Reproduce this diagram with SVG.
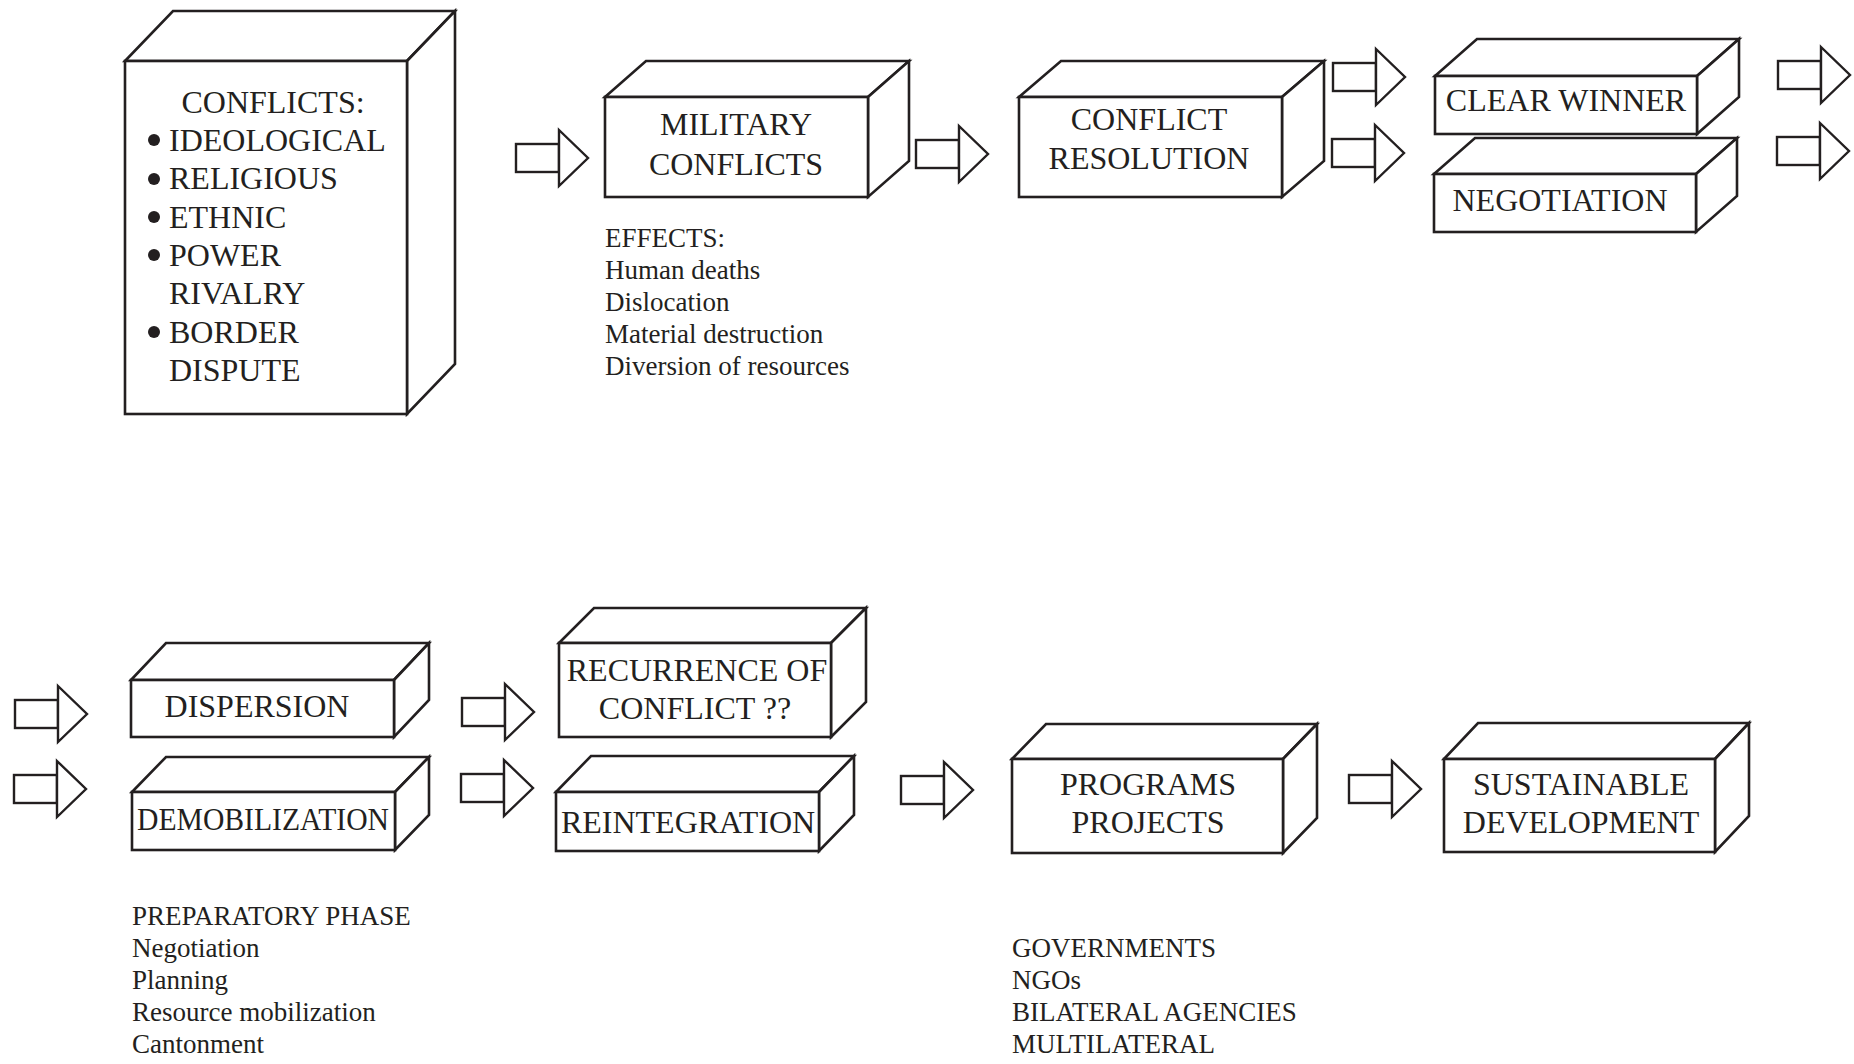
<svg xmlns="http://www.w3.org/2000/svg" width="1854" height="1064" viewBox="0 0 1854 1064">
<style>
.bx{fill:#fff;stroke:#231f20;stroke-width:2.6;stroke-linejoin:miter}
.ar{fill:#fff;stroke:#231f20;stroke-width:2.4;stroke-linejoin:miter}
text{font-family:"Liberation Serif","Times New Roman",serif;fill:#231f20}
.lb{font-size:32px;text-anchor:middle}
.ls{font-size:32px}
.sm{font-size:27px}
</style>
<defs>
<g id="arr"><rect class="ar" x="0" y="-14" width="43" height="28"/><polygon class="ar" points="43,-28 72,0 43,28"/></g>
</defs>
<rect width="1854" height="1064" fill="#fff"/>
<g id="connectors">
<use href="#arr" transform="translate(516,158)"/>
<use href="#arr" transform="translate(916,154)"/>
<use href="#arr" transform="translate(1333,77)"/>
<use href="#arr" transform="translate(1332,153)"/>
<use href="#arr" transform="translate(1778,75)"/>
<use href="#arr" transform="translate(1777,151)"/>
<use href="#arr" transform="translate(15,714)"/>
<use href="#arr" transform="translate(14,789)"/>
<use href="#arr" transform="translate(462,712)"/>
<use href="#arr" transform="translate(461,788)"/>
<use href="#arr" transform="translate(901,790)"/>
<use href="#arr" transform="translate(1349,789)"/>
</g>
<g id="conflicts">
<polygon class="bx" points="125,61 173,11 455,11 407,61"/>
<polygon class="bx" points="407,61 455,11 455,364 407,414"/>
<rect class="bx" x="125" y="61" width="282" height="353"/>
<text class="lb" x="273" y="113">CONFLICTS:</text>
<g fill="#231f20"><circle cx="154" cy="140" r="6"/><circle cx="154" cy="179" r="6"/><circle cx="154" cy="217" r="6"/><circle cx="154" cy="255" r="6"/><circle cx="154" cy="332" r="6"/></g>
<text class="ls" x="169" y="151">IDEOLOGICAL</text>
<text class="ls" x="169" y="189">RELIGIOUS</text>
<text class="ls" x="169" y="228">ETHNIC</text>
<text class="ls" x="169" y="266">POWER</text>
<text class="ls" x="169" y="304">RIVALRY</text>
<text class="ls" x="169" y="343">BORDER</text>
<text class="ls" x="169" y="381">DISPUTE</text>
</g>
<g id="military">
<polygon class="bx" points="605,97 646,61 909,61 868,97"/>
<polygon class="bx" points="868,97 909,61 909,161 868,197"/>
<rect class="bx" x="605" y="97" width="263" height="100"/>
<text class="lb" x="736" y="135">MILITARY</text>
<text class="lb" x="736" y="175">CONFLICTS</text>
</g>
<g id="effects">
<text class="sm" x="605" y="247">EFFECTS:</text>
<text class="sm" x="605" y="279">Human deaths</text>
<text class="sm" x="605" y="311">Dislocation</text>
<text class="sm" x="605" y="343">Material destruction</text>
<text class="sm" x="605" y="375">Diversion of resources</text>
</g>
<g id="resolution">
<polygon class="bx" points="1019,97 1061,61 1324,61 1282,97"/>
<polygon class="bx" points="1282,97 1324,61 1324,161 1282,197"/>
<rect class="bx" x="1019" y="97" width="263" height="100"/>
<text class="lb" x="1149" y="130">CONFLICT</text>
<text class="lb" x="1149" y="169">RESOLUTION</text>
</g>
<g id="winner">
<polygon class="bx" points="1435,76 1477,39 1739,39 1697,76"/>
<polygon class="bx" points="1697,76 1739,39 1739,97 1697,134"/>
<rect class="bx" x="1435" y="76" width="262" height="58"/>
<text class="lb" x="1566" y="111">CLEAR WINNER</text>
</g>
<g id="negotiation">
<polygon class="bx" points="1434,174 1475,138 1737,138 1696,174"/>
<polygon class="bx" points="1696,174 1737,138 1737,196 1696,232"/>
<rect class="bx" x="1434" y="174" width="262" height="58"/>
<text class="lb" x="1560" y="211">NEGOTIATION</text>
</g>
<g id="dispersion">
<polygon class="bx" points="131,680 166,643 429,643 394,680"/>
<polygon class="bx" points="394,680 429,643 429,700 394,737"/>
<rect class="bx" x="131" y="680" width="263" height="57"/>
<text class="lb" x="257" y="717">DISPERSION</text>
</g>
<g id="demobilization">
<polygon class="bx" points="132,792 166,757 429,757 395,792"/>
<polygon class="bx" points="395,792 429,757 429,815 395,850"/>
<rect class="bx" x="132" y="792" width="263" height="58"/>
<text class="lb" x="263" y="830" textLength="252" lengthAdjust="spacingAndGlyphs">DEMOBILIZATION</text>
</g>
<g id="recurrence">
<polygon class="bx" points="559,643 594,608 866,608 831,643"/>
<polygon class="bx" points="831,643 866,608 866,702 831,737"/>
<rect class="bx" x="559" y="643" width="272" height="94"/>
<text class="lb" x="697" y="681">RECURRENCE OF</text>
<text class="lb" x="695" y="719">CONFLICT ??</text>
</g>
<g id="reintegration">
<polygon class="bx" points="556,792 591,756 854,756 819,792"/>
<polygon class="bx" points="819,792 854,756 854,815 819,851"/>
<rect class="bx" x="556" y="792" width="263" height="59"/>
<text class="lb" x="688" y="833">REINTEGRATION</text>
</g>
<g id="preparatory">
<text class="sm" x="132" y="925">PREPARATORY PHASE</text>
<text class="sm" x="132" y="957">Negotiation</text>
<text class="sm" x="132" y="989">Planning</text>
<text class="sm" x="132" y="1021">Resource mobilization</text>
<text class="sm" x="132" y="1053">Cantonment</text>
</g>
<g id="programs">
<polygon class="bx" points="1012,759 1046,724 1317,724 1283,759"/>
<polygon class="bx" points="1283,759 1317,724 1317,818 1283,853"/>
<rect class="bx" x="1012" y="759" width="271" height="94"/>
<text class="lb" x="1148" y="795">PROGRAMS</text>
<text class="lb" x="1148" y="833">PROJECTS</text>
</g>
<g id="actors">
<text class="sm" x="1012" y="957">GOVERNMENTS</text>
<text class="sm" x="1012" y="989">NGOs</text>
<text class="sm" x="1012" y="1021">BILATERAL AGENCIES</text>
<text class="sm" x="1012" y="1053">MULTILATERAL</text>
</g>
<g id="sustainable">
<polygon class="bx" points="1444,759 1478,723 1749,723 1715,759"/>
<polygon class="bx" points="1715,759 1749,723 1749,816 1715,852"/>
<rect class="bx" x="1444" y="759" width="271" height="93"/>
<text class="lb" x="1581" y="795">SUSTAINABLE</text>
<text class="lb" x="1581" y="833">DEVELOPMENT</text>
</g>
</svg>
